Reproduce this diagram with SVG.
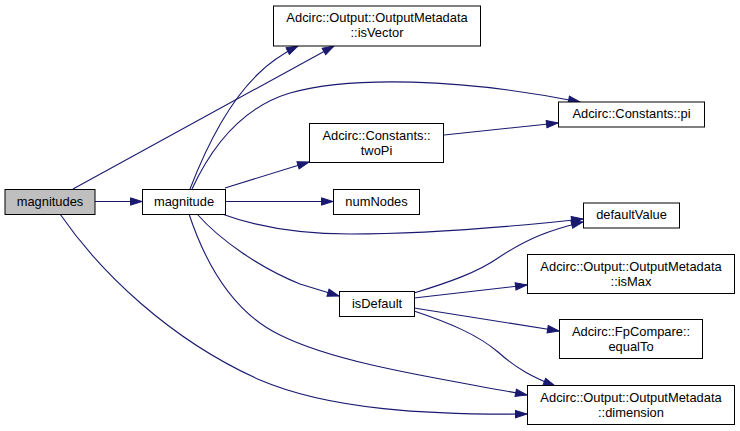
<svg xmlns="http://www.w3.org/2000/svg" width="740" height="431" viewBox="0 0 740 431">
<defs>
<marker id="ah" markerUnits="userSpaceOnUse" markerWidth="14" markerHeight="10" refX="12.5" refY="5" orient="auto">
<path d="M1,1.3 L12.5,5 L1,8.7 z" fill="#191970" stroke="#191970" stroke-width="1"/>
</marker>
</defs>
<style>
.n rect{fill:#ffffff;stroke:#000000;stroke-width:1}
.root rect{fill:#bfbfbf}
.n text{font-family:"Liberation Sans",Arial,sans-serif;font-size:12.9px;fill:#000000;text-anchor:middle}
.e path{fill:none;stroke:#191970;stroke-width:1.1;marker-end:url(#ah)}
</style>
<rect width="740" height="431" fill="#ffffff"/>
<g id="edges" class="e">
<path d="M95,201.5 L142,201.5"/>
<path d="M73,189 L334,46"/>
<path d="M60,214 C100,272 170,340 260,380 C330,410 430,415 527,414"/>
<path d="M190,189 C205,150 228,103 258,74 C268,64 280,55 298,46"/>
<path d="M192,189 C210,150 240,108 290,93 C350,76 460,78 580,102"/>
<path d="M225,188 L309,162"/>
<path d="M225,201.5 L333,201.5"/>
<path d="M222,214 C260,228 300,234 350,234 C420,234 500,228 583,219"/>
<path d="M197,214 C220,240 260,268 300,284 L339,296"/>
<path d="M189,214 C205,262 232,312 280,335 C340,365 450,380 527,395"/>
<path d="M444,135 L558,123"/>
<path d="M414,293 C450,282 478,272 498,258 C528,238 550,230 583,222"/>
<path d="M414,298 L527,285"/>
<path d="M414,308 L559,331"/>
<path d="M414,311 C450,323 478,335 498,352 C518,370 535,378 555,386"/>
</g>
<g id="magnitudes" class="n root"><rect x="5" y="189.5" width="90" height="25"/><text x="50" y="205.5">magnitudes</text></g>
<g id="magnitude" class="n"><rect x="142.5" y="189.5" width="83" height="25"/><text x="184" y="205.5">magnitude</text></g>
<g id="isVector" class="n"><rect x="273.5" y="6" width="207" height="40"/><text x="377" y="22">Adcirc::Output::OutputMetadata</text><text x="377" y="37">::isVector</text></g>
<g id="twoPi" class="n"><rect x="309.5" y="123.5" width="134" height="39"/><text x="376.5" y="139.5">Adcirc::Constants::</text><text x="376.5" y="154.5">twoPi</text></g>
<g id="numNodes" class="n"><rect x="333.5" y="189.5" width="86" height="25"/><text x="376.5" y="205.5">numNodes</text></g>
<g id="isDefault" class="n"><rect x="339.5" y="291.5" width="75" height="25"/><text x="377" y="307.5">isDefault</text></g>
<g id="pi" class="n"><rect x="558.5" y="102" width="146" height="25"/><text x="631.5" y="118">Adcirc::Constants::pi</text></g>
<g id="defaultValue" class="n"><rect x="583.5" y="203" width="96" height="25"/><text x="631.5" y="219">defaultValue</text></g>
<g id="isMax" class="n"><rect x="527.5" y="254.5" width="207" height="39"/><text x="631" y="270.5">Adcirc::Output::OutputMetadata</text><text x="631" y="285.5">::isMax</text></g>
<g id="equalTo" class="n"><rect x="559.5" y="319.5" width="143" height="39"/><text x="631" y="335.5">Adcirc::FpCompare::</text><text x="631" y="350.5">equalTo</text></g>
<g id="dimension" class="n"><rect x="527.5" y="385.5" width="207" height="39"/><text x="631" y="401.5">Adcirc::Output::OutputMetadata</text><text x="631" y="416.5">::dimension</text></g>
</svg>
